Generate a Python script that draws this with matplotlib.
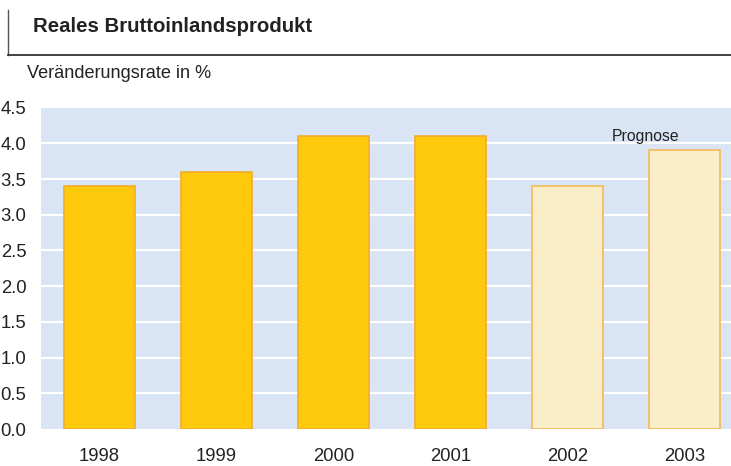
import matplotlib.pyplot as plt
from matplotlib.lines import Line2D

plt.rcParams['font.family'] = ['Liberation Sans', 'DejaVu Sans']

years = ["1998", "1999", "2000", "2001", "2002", "2003"]
values = [3.4, 3.6, 4.1, 4.1, 3.4, 3.9]
forecast = [False, False, False, False, True, True]
yticks = [0.0, 0.5, 1.0, 1.5, 2.0, 2.5, 3.0, 3.5, 4.0, 4.5]

W, H = 731, 466
fig = plt.figure(figsize=(W / 100, H / 100), dpi=100)
ax = fig.add_axes([41 / W, 1 - 429 / H, 1 - 41 / W, (429 - 107.6) / H])

ax.set_facecolor("#d9e4f4")
for t in yticks[1:-1]:
    ax.axhline(t, color="white", lw=1.6, zorder=1)

x = list(range(len(years)))
fills = ["#faeec8" if f else "#ffc90c" for f in forecast]
edges = ["#f5b856" if f else "#f5ab2c" for f in forecast]
ax.bar(x, values, width=0.6, color=fills, edgecolor=edges, linewidth=1.2, zorder=2)

ax.text(4.67, 4.09, "Prognose", fontsize=11.3, ha="center", va="center", color="#222222")

ax.set_xlim(-0.5, (W - 41) / 117 - 0.5)
ax.set_ylim(0, 4.5)
ax.set_xticks(x)
ax.set_xticklabels(years)
ax.set_yticks(yticks)
ax.set_yticklabels(["%.1f" % t for t in yticks])
ax.tick_params(axis="both", length=0, labelsize=13.3, colors="#222222")
ax.tick_params(axis="y", pad=10.5)
ax.tick_params(axis="x", pad=14)
for s in ax.spines.values():
    s.set_visible(False)

# title frame
fig.add_artist(Line2D([8 / W, 8 / W], [1 - 10 / H, 1 - 55 / H], color="#555555", lw=1))
fig.add_artist(Line2D([8 / W, 1], [1 - 55 / H, 1 - 55 / H], color="#333333", lw=1.3))
fig.text(33 / W, 1 - 26 / H, "Reales Bruttoinlandsprodukt", fontsize=14.7, fontweight="bold",
         va="center", ha="left", color="#222222")
fig.text(27 / W, 1 - 74 / H, "Veränderungsrate in %", fontsize=13.1,
         va="center", ha="left", color="#222222")

fig.savefig("out.png", dpi=100)
